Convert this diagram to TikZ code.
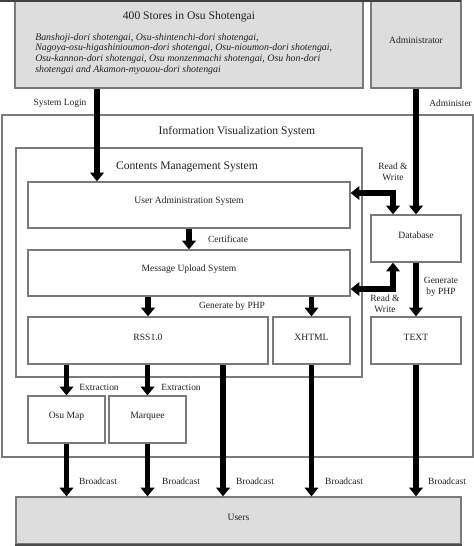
\documentclass[tikz,border=0pt]{standalone}
\usepackage{fontspec}
\setmainfont{Liberation Serif}
\usetikzlibrary{arrows.meta,fit}
\definecolor{boxgray}{HTML}{DDDDDD}
\definecolor{edge}{HTML}{7A7A7A}
\definecolor{txt}{HTML}{222222}
\begin{document}
\begin{tikzpicture}[x=0.75pt,y=-0.75pt,
  box/.style={draw=edge,line width=0.9pt,fill=white,inner sep=0pt,text=txt,font=\fontsize{7.2}{8.6}\selectfont},
  graybox/.style={box,fill=boxgray},
  lbl/.style={text=txt,font=\fontsize{7.1}{8.4}\selectfont,inner sep=0pt},
  title/.style={text=txt,font=\fontsize{8.7}{10}\selectfont,inner sep=0pt},
  arr/.style={line width=4pt,-{Triangle[length=6.5pt,width=10pt]},shorten >=0pt},
  arrboth/.style={line width=4pt,{Triangle[length=6.5pt,width=10pt]}-{Triangle[length=6.5pt,width=10pt]}}]
\useasboundingbox (0,0) rectangle (474,546);
% top boxes
\node[graybox,fit={(15,0)(363,88)}] (stores) {};
\node[graybox,fit={(371,0)(461,88)}] (admin) {Administrator};
\draw[line width=1.6pt,color=black!75] (0,1) -- (461,1);
\node[title] (storestitle) at (189,17) {400 Stores in Osu Shotengai};
\node[lbl,anchor=north west,align=left,font=\fontsize{7.4}{8}\itshape\selectfont] (storeslist) at (35,33)
 {Banshoji-dori shotengai, Osu-shintenchi-dori shotengai,\\
  Nagoya-osu-higashinioumon-dori shotengai, Osu-nioumon-dori shotengai,\\
  Osu-kannon-dori shotengai, Osu monzenmachi shotengai, Osu hon-dori\\
  shotengai and Akamon-myouou-dori shotengai};
% outer system
\node[box,fit={(2,115)(473,457)}] (ivs) {};
\node[title] (ivstitle) at (237,132) {Information Visualization System};
\node[box,fit={(16,148)(362,377)}] (cms) {};
\node[title] (cmstitle) at (187,167) {Contents Management System};
\node[box,fit={(28,182)(350,228)}] (uas) {User Administration System};
\node[box,fit={(28,250)(350,296)}] (mus) {Message Upload System};
\node[box,fit={(28,317)(268,364)}] (rss) {RSS1.0};
\node[box,fit={(273,317)(350,364)}] (xhtml) {XHTML};
\node[box,fit={(371,215)(461,262)}] (db) {Database};
\node[box,fit={(371,317)(461,364)}] (text) {TEXT};
\node[box,fit={(28,396)(105,443)}] (osumap) {Osu Map};
\node[box,fit={(109,396)(186,443)}] (marquee) {Marquee};
\node[graybox,fit={(16,497)(461,544)}] (users) {Users};
\draw[line width=1.6pt,color=black!70] (users.south west) -- (users.south east);
% coordinates
\coordinate (lx) at (97,0);
\coordinate (rx) at (223,0);
\coordinate (rw1) at (393,193);
\coordinate (rw2) at (393,289);
% arrows
\draw[arr] (stores.south -| lx) -- (uas.north -| lx);
\draw[arr] (admin.south) -- (db.north -| admin.south);
\draw[arr] (uas.south) -- (mus.north);
\draw[arrboth] (uas.east |- rw1) -- (rw1) -- (db.north -| rw1);
\draw[arrboth] (db.south -| rw2) -- (rw2) -- (mus.east |- rw2);
\draw[arr] (mus.south -| rss.north) -- (rss.north);
\draw[arr] (mus.south -| xhtml.north) -- (xhtml.north);
\draw[arr] (db.south) -- (text.north);
\draw[arr] (rss.south -| osumap.north) -- (osumap.north);
\draw[arr] (rss.south -| marquee.north) -- (marquee.north);
\draw[arr] (osumap.south) -- (users.north -| osumap.south);
\draw[arr] (marquee.south) -- (users.north -| marquee.south);
\draw[arr] (rss.south -| rx) -- (users.north -| rx);
\draw[arr] (xhtml.south) -- (users.north -| xhtml.south);
\draw[arr] (text.south) -- (users.north -| text.south);
% labels
\node[lbl] (l1) at (60,103) {System Login};
\node[lbl,anchor=west] (l2) at (429,103) {Administer};
\node[lbl,align=center] (l3) at (393,172) {Read \&\\Write};
\node[lbl] (l4) at (228,239) {Certificate};
\node[lbl] (l5) at (232,306) {Generate by PHP};
\node[lbl,align=center] (l6) at (385,304) {Read \&\\Write};
\node[lbl,align=center] (l7) at (441,287) {Generate\\by PHP};
\node[lbl] (l8) at (99,387) {Extraction};
\node[lbl] (l9) at (181,387) {Extraction};
\node[lbl] (b1) at (98,481) {Broadcast};
\node[lbl] (b2) at (181,481) {Broadcast};
\node[lbl] (b3) at (255,481) {Broadcast};
\node[lbl] (b4) at (344,481) {Broadcast};
\node[lbl] (b5) at (447,481) {Broadcast};
\end{tikzpicture}
\end{document}
